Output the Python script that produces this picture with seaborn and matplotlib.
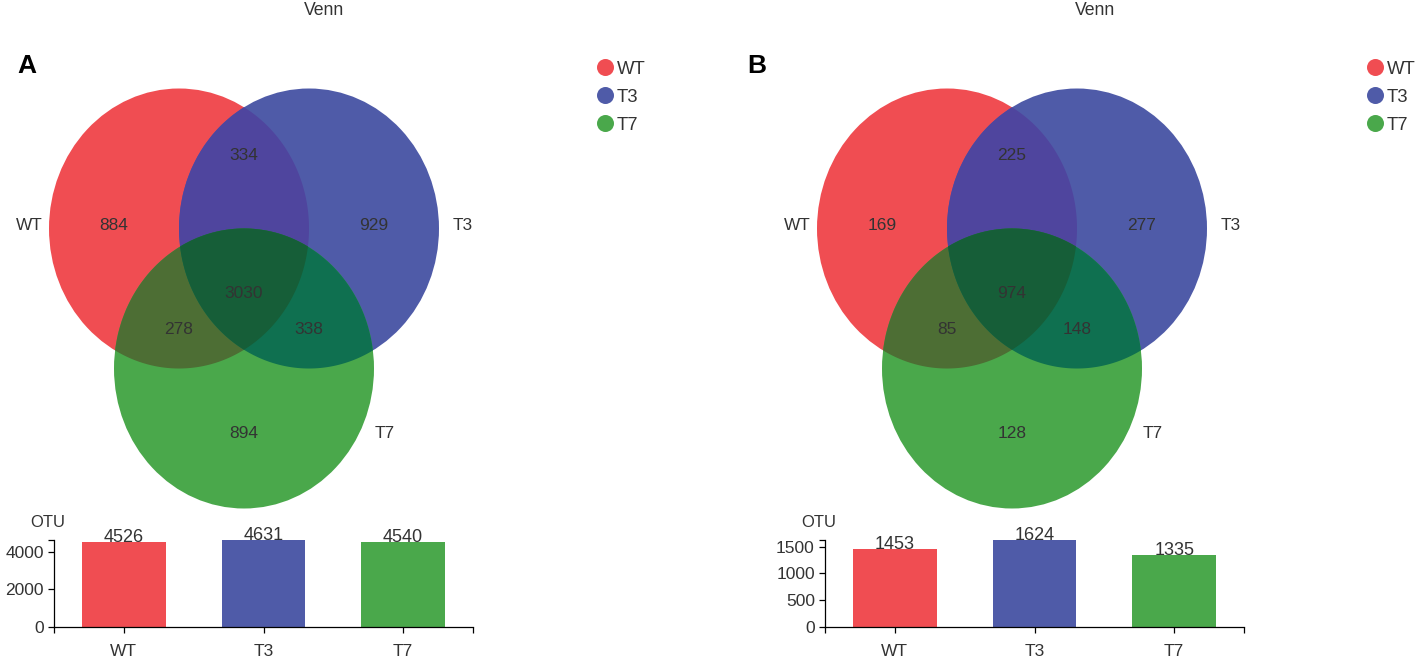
import numpy as np
import pandas as pd
import matplotlib
matplotlib.use("Agg")
import matplotlib.pyplot as plt
import seaborn as sns
from matplotlib.patches import Ellipse, Polygon

groups = ["WT", "T3", "T7"]
group_colors = ["#F04D52", "#4F5BA8", "#4AA84B"]
# overlap colours: WT&T3, WT&T7, T3&T7, all three
overlap_colors = ["#4F459E", "#4D6E34", "#0F7050", "#165E38"]

# region counts: only WT, only T3, only T7, WT&T3, WT&T7, T3&T7, all three
regions_a = [884, 929, 894, 334, 278, 338, 3030]
regions_b = [169, 277, 128, 225, 85, 148, 974]
otu_a = [4526, 4631, 4540]
otu_b = [1453, 1624, 1335]
yticks_a = [0, 2000, 4000]
yticks_b = [0, 500, 1000, 1500]

sns.set_theme(style="ticks")
plt.rcParams["font.family"] = ["Liberation Sans", "DejaVu Sans"]
TXT = "#333333"

W, H = 1417, 659
fig = plt.figure(figsize=(W / 100, H / 100), dpi=100)
ov = fig.add_axes([0, 0, 1, 1])
ov.set_xlim(0, W)
ov.set_ylim(H, 0)
ov.axis("off")

RX, RY = 130, 140


def ellipse_pts(c, n=3000):
    t = np.linspace(0, 2 * np.pi, n, endpoint=False)
    return np.column_stack([c[0] + RX * np.cos(t), c[1] + RY * np.sin(t)])


def inside(p, c):
    return ((p[:, 0] - c[0]) / RX) ** 2 + ((p[:, 1] - c[1]) / RY) ** 2 <= 1 + 1e-9


def overlap(centers):
    pts = np.vstack([ellipse_pts(c) for c in centers])
    keep = np.all([inside(pts, c) for c in centers], axis=0)
    pts = pts[keep]
    m = pts.mean(axis=0)
    order = np.argsort(np.arctan2(pts[:, 1] - m[1], pts[:, 0] - m[0]))
    return pts[order]


def draw_venn(cx, regions):
    cy = 228.5
    centers = [(cx - 65, cy), (cx + 65, cy), (cx, cy + 140)]
    for c, col in zip(centers, group_colors):
        ov.add_patch(Ellipse(c, 2 * RX, 2 * RY, color=col, lw=0))
    combos = [(0, 1), (0, 2), (1, 2), (0, 1, 2)]
    for combo, col in zip(combos, overlap_colors):
        poly = overlap([centers[i] for i in combo])
        ov.add_patch(Polygon(poly, closed=True, color=col, lw=0))
    spots = [(-130, 223), (130, 223), (0, 432), (0, 153), (-65, 327), (65, 327), (0, 292)]
    for (dx, y), n in zip(spots, regions):
        ov.text(cx + dx, y + 6.5, str(n), ha="center", va="baseline",
                fontsize=12.5, color=TXT)
    for (dx, y), name in zip([(-215, 223), (219, 223), (141, 432)], groups):
        ov.text(cx + dx, y + 6.5, name, ha="center", va="baseline",
                fontsize=12.4, color=TXT)


def draw_legend(x):
    for i, (name, col) in enumerate(zip(groups, group_colors)):
        y = 67 + 28 * i
        ov.scatter([x], [y], s=150, color=col, lw=0)
        ov.text(x + 12, y + 7, name, ha="left", va="baseline", fontsize=13.3, color=TXT)


def draw_bars(left, values, ticks):
    ax = fig.add_axes([left / W, 32 / H, 419 / W, 87 / H])
    df = pd.DataFrame({"group": groups, "otu": values})
    sns.barplot(data=df, x="group", y="otu", hue="group", palette=group_colors,
                width=0.6, saturation=1, linewidth=0, legend=False, ax=ax)
    for i, v in enumerate(values):
        ax.text(i, v, str(v), ha="center", va="baseline", fontsize=13, color=TXT)
    ax.set_xlim(-0.5, 2.5)
    ax.set_ylim(0, max(values))
    ax.set_yticks(ticks)
    ax.set_yticks([max(values)], minor=True)
    ax.set_xticks([-0.5, 2.5], minor=True)
    ax.set_xlabel("")
    ax.set_ylabel("")
    ax.patch.set_alpha(0)
    sns.despine(ax=ax)
    for s in ["left", "bottom"]:
        ax.spines[s].set_color("black")
        ax.spines[s].set_linewidth(0.9)
    ax.tick_params(axis="both", which="both", length=4.3, width=0.9, color="black",
                   labelsize=12.5, labelcolor=TXT)
    ax.tick_params(axis="x", pad=8)
    ax.tick_params(axis="y", pad=3)
    ov.text(left - 6, 527, "OTU", ha="center", va="baseline", fontsize=12, color=TXT)


panels = [
    dict(letter="A", letter_x=17, title_x=324, venn_cx=244, legend_x=605,
         bar_left=54, regions=regions_a, otu=otu_a, ticks=yticks_a),
    dict(letter="B", letter_x=747, title_x=1095, venn_cx=1012, legend_x=1375,
         bar_left=825, regions=regions_b, otu=otu_b, ticks=yticks_b),
]

for p in panels:
    ov.text(p["title_x"], 15, "Venn", ha="center", va="baseline", fontsize=12.7, color=TXT)
    ov.text(p["letter_x"], 73, p["letter"], ha="left", va="baseline",
            fontsize=19, fontweight="bold", color="black")
    draw_venn(p["venn_cx"], p["regions"])
    draw_legend(p["legend_x"])
    draw_bars(p["bar_left"], p["otu"], p["ticks"])

fig.savefig("out.png", dpi=100, facecolor="white")
